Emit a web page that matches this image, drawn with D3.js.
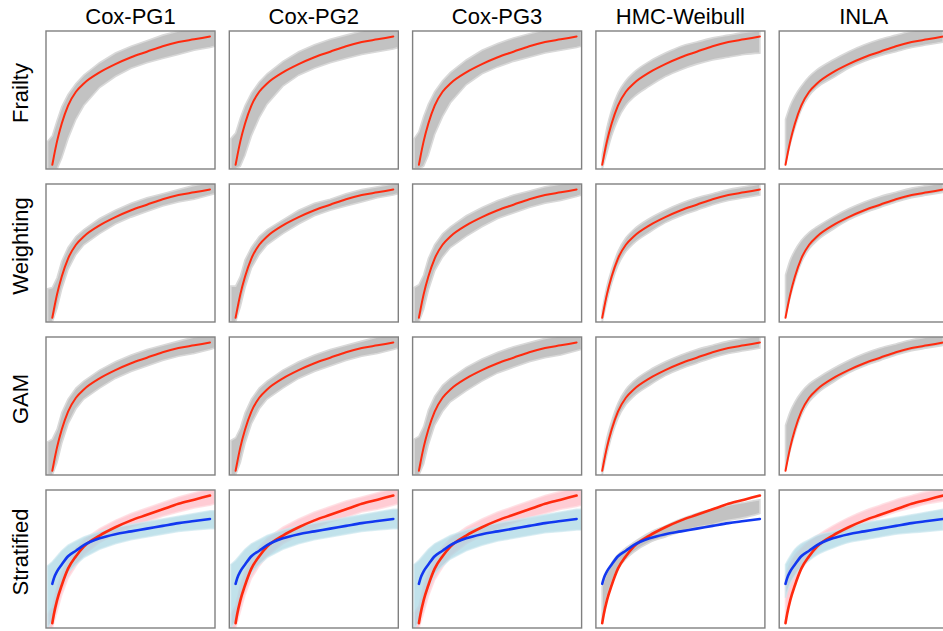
<!DOCTYPE html>
<html><head><meta charset="utf-8">
<script src="https://cdn.jsdelivr.net/npm/d3@7"></script>
<style>body{margin:0;background:#fff}svg{display:block}</style>
</head><body>
<script>
// Panel grid: columns are fitting methods, rows are simulation designs
const methods = ["Cox-PG1", "Cox-PG2", "Cox-PG3", "HMC-Weibull", "INLA"];
const designs = ["Frailty", "Weighting", "GAM", "Stratified"];

// time grid (scaled 0..1) for true curves and for posterior envelopes
const tCurve = [0, .01, .03, .06, .1, .15, .2, .3, .4, .5, .6, .7, .8, .9, 1];
const tBand  = [-.03, 0, .03, .06, .1, .15, .2, .3, .4, .5, .6, .7, .8, .9, 1, 1.03];

// true cumulative curves (scaled)
const truthMain   = [.03, .09, .20, .33, .46, .56, .62, .70, .76, .81, .85, .89, .92, .94, .96];
const truthStratA = [.035, .10, .20, .31, .43, .52, .59, .67, .73, .78, .82, .86, .90, .93, .96];
const truthStratB = [.32, .36, .41, .46, .52, .56, .60, .65, .68, .70, .72, .74, .76, .775, .79];

// posterior sample envelopes, one array per method (order of `methods`)
const frailtyHi = [
  [.20, .24, .35, .45, .54, .62, .68, .77, .84, .89, .93, .97, 1.00, 1.03, 1.05, 1.06],
  [.22, .26, .37, .46, .55, .63, .69, .78, .85, .90, .94, .97, 1.00, 1.03, 1.05, 1.06],
  [.22, .27, .38, .47, .56, .64, .70, .79, .86, .91, .95, .98, 1.01, 1.04, 1.06, 1.07],
  [null, .10, .30, .43, .55, .64, .70, .78, .84, .89, .92, .95, .97, .99, 1.00, null],
  [null, .36, .46, .53, .60, .67, .72, .79, .85, .90, .94, .97, 1.00, 1.02, 1.04, null]];
const frailtyLo = [
  [.00, .00, .00, .08, .22, .36, .46, .59, .67, .73, .77, .80, .83, .86, .88, .89],
  [.00, .00, .02, .10, .24, .37, .47, .60, .68, .73, .77, .80, .83, .85, .87, .88],
  [.00, .00, .02, .10, .25, .38, .48, .61, .69, .74, .78, .81, .84, .86, .88, .89],
  [null, .00, .12, .24, .36, .46, .52, .60, .67, .72, .76, .79, .81, .83, .84, null],
  [null, .04, .18, .30, .43, .53, .59, .66, .73, .78, .82, .85, .88, .90, .92, null]];
const weightingHi = [
  [.24, .25, .32, .44, .54, .62, .67, .75, .81, .86, .90, .93, .96, .99, 1.01, 1.02],
  [.26, .26, .33, .45, .54, .62, .67, .74, .81, .86, .89, .93, .96, .98, 1.00, 1.01],
  [.25, .27, .34, .46, .56, .64, .69, .77, .83, .88, .92, .95, .98, 1.00, 1.02, 1.03],
  [null, .08, .26, .38, .51, .61, .67, .75, .81, .86, .90, .93, .96, .98, 1.00, null],
  [null, .34, .45, .52, .59, .65, .69, .76, .82, .87, .91, .94, .97, .99, 1.01, null]];
const weightingLo = [
  [.00, .00, .10, .24, .38, .49, .56, .64, .71, .76, .80, .84, .87, .89, .92, .93],
  [.00, .00, .11, .25, .39, .49, .56, .64, .71, .77, .81, .84, .87, .90, .92, .93],
  [.00, .00, .09, .23, .37, .47, .54, .62, .69, .75, .79, .83, .86, .88, .91, .92],
  [null, .00, .15, .28, .41, .51, .57, .65, .72, .77, .81, .85, .88, .90, .92, null],
  [null, .04, .18, .30, .43, .53, .59, .67, .74, .79, .83, .87, .90, .92, .94, null]];
const gamHi = [
  [.24, .26, .33, .45, .55, .63, .68, .76, .82, .87, .91, .94, .97, 1.00, 1.02, 1.03],
  [.25, .27, .34, .45, .55, .63, .68, .76, .82, .87, .91, .94, .97, 1.00, 1.02, 1.03],
  [.26, .28, .35, .47, .57, .65, .70, .78, .84, .89, .93, .96, .99, 1.01, 1.03, 1.04],
  [null, .08, .27, .39, .52, .62, .68, .76, .82, .87, .91, .94, .97, .99, 1.01, null],
  [null, .36, .46, .53, .60, .66, .70, .77, .83, .88, .92, .95, .98, 1.00, 1.02, null]];
const gamLo = [
  [.00, .00, .09, .23, .37, .48, .55, .63, .70, .75, .79, .83, .86, .88, .91, .92],
  [.00, .00, .09, .23, .37, .48, .55, .63, .70, .75, .79, .83, .86, .88, .91, .92],
  [.00, .00, .08, .22, .36, .46, .53, .61, .68, .74, .78, .82, .85, .87, .90, .91],
  [null, .00, .15, .28, .41, .51, .57, .65, .72, .77, .81, .85, .88, .90, .92, null],
  [null, .04, .18, .30, .43, .53, .59, .67, .74, .79, .83, .87, .90, .92, .94, null]];

// stratified design: stratum A (red) and stratum B (blue) envelopes
const stratAHi = [
  [.10, .15, .30, .40, .50, .58, .64, .72, .78, .83, .87, .91, .95, .98, 1.01, 1.02],
  [.10, .16, .31, .41, .51, .59, .65, .73, .79, .84, .88, .92, .95, .98, 1.01, 1.02],
  [.11, .16, .31, .41, .51, .59, .65, .73, .79, .84, .88, .92, .96, .99, 1.02, 1.03],
  null,
  [null, .38, .47, .53, .58, .63, .67, .74, .80, .85, .89, .93, .96, .99, 1.01, null]];
const stratALo = [
  [.00, .00, .12, .24, .36, .45, .53, .62, .68, .73, .77, .81, .84, .87, .89, .90],
  [.00, .00, .12, .24, .36, .45, .52, .61, .67, .72, .77, .80, .84, .86, .89, .90],
  [.00, .00, .11, .23, .35, .44, .52, .61, .67, .72, .76, .80, .83, .86, .88, .89],
  null,
  [null, .04, .20, .31, .42, .50, .57, .65, .71, .76, .80, .84, .87, .90, .92, null]];
const stratBHi = [
  [.45, .48, .52, .56, .60, .63, .66, .70, .73, .75, .77, .79, .81, .83, .85, .85],
  [.46, .49, .53, .57, .61, .64, .67, .71, .74, .76, .78, .80, .82, .84, .86, .86],
  [.46, .49, .53, .57, .61, .64, .67, .71, .74, .76, .78, .80, .82, .84, .86, .86],
  null,
  [null, .46, .52, .57, .61, .64, .67, .70, .73, .76, .78, .80, .82, .84, .86, null]];
const stratBLo = [
  [.00, .05, .20, .30, .40, .46, .51, .57, .61, .64, .66, .68, .70, .71, .72, .72],
  [.00, .05, .20, .30, .40, .46, .51, .57, .61, .64, .66, .68, .70, .71, .72, .72],
  [.00, .04, .19, .29, .39, .45, .50, .56, .60, .63, .65, .67, .69, .70, .71, .71],
  null,
  [null, .22, .32, .38, .44, .49, .53, .58, .62, .64, .66, .68, .69, .70, .71, null]];
// single pooled envelope for the Weibull fit of the stratified design
const stratPooledHi = [null, .30, .40, .47, .53, .58, .62, .69, .74, .79, .83, .86, .89, .91, .93, null];
const stratPooledLo = [null, .05, .22, .33, .43, .50, .55, .62, .66, .70, .73, .75, .78, .80, .83, null];

const W = 943, H = 631;
const colX = [46, 229.3, 412.6, 595.9, 779.2];
const rowY = [31, 184, 337, 490];
const pw = 169, ph = 138;

const svg = d3.select("body").append("svg").attr("width", W).attr("height", H);
const font = "'Liberation Sans', Arial, sans-serif";

const x = d3.scaleLinear().domain([0, 1]).range([6.3, 164]);
const y = d3.scaleLinear().domain([0, 1]).range([ph, 0]);

const zip = (t, a) => t.map((v, i) => [v, a[i]]);
const zip2 = (t, lo, hi) => t.map((v, i) => [v, lo[i], hi[i]]);

function band(g, lo, hi, smooth, fill, edge, opacity) {
  const area = d3.area().defined(d => d[1] != null)
    .x(d => x(d[0])).y0(d => y(d[1])).y1(d => y(d[2]))
    .curve(smooth ? d3.curveMonotoneX : d3.curveLinear);
  g.append("path").attr("d", area(zip2(tBand, lo, hi)))
    .attr("fill", fill).attr("fill-opacity", opacity)
    .attr("stroke", edge).attr("stroke-width", 1.6).attr("stroke-opacity", opacity);
}
function curve(g, vals, color, width) {
  const ln = d3.line().x(d => x(d[0])).y(d => y(d[1])).curve(d3.curveMonotoneX);
  g.append("path").attr("d", ln(zip(tCurve, vals)))
    .attr("fill", "none").attr("stroke", color).attr("stroke-width", width)
    .attr("stroke-linecap", "round");
}

const grayBands = [[frailtyLo, frailtyHi], [weightingLo, weightingHi], [gamLo, gamHi]];
const RED = "#ff2a0e", BLUE = "#1238f0";

designs.forEach((design, r) => {
  methods.forEach((m, c) => {
    const g = svg.append("g").attr("transform", `translate(${colX[c]},${rowY[r]})`);
    const id = `clip-${r}-${c}`;
    g.append("clipPath").attr("id", id).append("rect").attr("width", pw).attr("height", ph);
    const inner = g.append("g").attr("clip-path", `url(#${id})`);
    const smooth = c >= 3;
    if (r < 3) {
      const [lo, hi] = grayBands[r];
      band(inner, lo[c], hi[c], smooth, "#c2c2c2", "#d9d9d9", 1);
      curve(inner, truthMain, RED, 2);
    } else {
      if (c === 3) {
        band(inner, stratPooledLo, stratPooledHi, true, "#c2c2c2", "#d9d9d9", 1);
      } else {
        band(inner, stratALo[c], stratAHi[c], smooth, "#ffc3cc", "#ffdde2", 0.85);
        band(inner, stratBLo[c], stratBHi[c], smooth, "#a6d6e2", "#cfe8ef", 0.7);
      }
      curve(inner, truthStratA, RED, 2.6);
      curve(inner, truthStratB, BLUE, 2.6);
    }
    g.append("rect").attr("width", pw).attr("height", ph)
      .attr("fill", "none").attr("stroke", "#808080").attr("stroke-width", 1.4);
  });
});

methods.forEach((m, c) => {
  svg.append("text").attr("x", colX[c] + pw / 2).attr("y", 24)
    .attr("text-anchor", "middle").attr("font-family", font).attr("font-size", 22)
    .attr("fill", "#000").text(m);
});
designs.forEach((d, r) => {
  svg.append("text")
    .attr("transform", `translate(28,${rowY[r] + ph / 2 - 7}) rotate(-90)`)
    .attr("text-anchor", "middle").attr("font-family", font).attr("font-size", 22)
    .attr("fill", "#000").text(d);
});
</script>
</body></html>
